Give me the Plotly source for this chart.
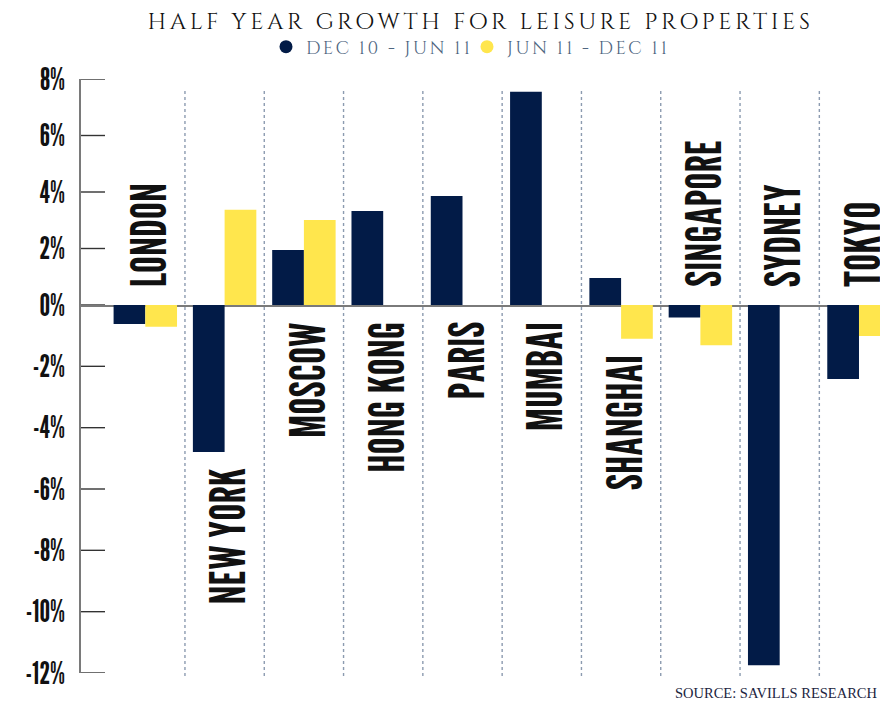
import plotly.graph_objects as go

# Half-year growth in prime leisure property values (%)
cities = ["LONDON", "NEW YORK", "MOSCOW", "HONG KONG", "PARIS",
          "MUMBAI", "SHANGHAI", "SINGAPORE", "SYDNEY", "TOKYO"]
dec10_jun11 = [-0.62, -4.79, 1.95, 3.33, 3.86, 7.55, 0.96, -0.41, -11.75, -2.41]
jun11_dec11 = [-0.71, 3.37, 3.01, None, None, None, -1.10, -1.31, None, -1.01]
# where each city name sits: above the zero line or under its lowest bar
label_side = ["above", "below", "below", "below", "below",
              "below", "below", "above", "above", "above"]

series_names = ["DEC 10 - JUN 11", "JUN 11 - DEC 11"]
series_colors = ["#021b47", "#ffe64d"]

pos_ticks = [0, 2, 4, 6, 8]
neg_ticks = [-2, -4, -6, -8, -10, -12]

NAVY_GREY = "#4e6580"
GOTHIC = "League Gothic, Oswald, Roboto Condensed, Liberation Sans Narrow, sans-serif"
ROMAN = "Cinzel, Liberation Serif, serif"

fig = go.Figure()

# The gain and loss halves of the value axis are drawn on two stacked axes
for vals, name, color, grp in zip([dec10_jun11, jun11_dec11], series_names,
                                  series_colors, ["a", "b"]):
    up = [v if (v is not None and v > 0) else None for v in vals]
    down = [v if (v is not None and v < 0) else None for v in vals]
    fig.add_trace(go.Bar(x=cities, y=up, marker_color=color, marker_line_width=0,
                         offsetgroup=grp, showlegend=False, name=name,
                         xaxis="x", yaxis="y"))
    fig.add_trace(go.Bar(x=cities, y=down, marker_color=color, marker_line_width=0,
                         offsetgroup=grp, showlegend=False, name=name,
                         xaxis="x", yaxis="y2"))
    # round legend swatches
    fig.add_trace(go.Scatter(x=[None], y=[None], mode="markers", name=name,
                             marker=dict(color=color, size=13, symbol="circle"),
                             xaxis="x", yaxis="y"))

# short tick marks running right from the value axis, on a 0-1 helper x axis
tick_len = 24 / 799
for axis_ref, ticks in (("y", pos_ticks), ("y2", neg_ticks)):
    tx, ty = [], []
    for t in ticks:
        tx += [0, tick_len, None]
        ty += [t, t, None]
    fig.add_trace(go.Scatter(x=tx, y=ty, mode="lines", xaxis="x2", yaxis=axis_ref,
                             line=dict(color="#333333", width=1.4),
                             cliponaxis=False, showlegend=False, hoverinfo="skip"))

# City names written vertically beside their bars
label_font = dict(family=GOTHIC, size=48, color="#111111")
for i, city in enumerate(cities):
    if label_side[i] == "above":
        fig.add_annotation(x=city, y=0, xref="x", yref="y", text=city,
                           textangle=-90, showarrow=False, yanchor="bottom",
                           yshift=16, xshift=3, font=label_font)
    else:
        low = min([0] + [v for v in (dec10_jun11[i], jun11_dec11[i])
                         if v is not None])
        fig.add_annotation(x=city, y=low, xref="x", yref="y2", text=city,
                           textangle=-90, showarrow=False, yanchor="top",
                           yshift=-15, xshift=3, font=label_font)

# dotted separators between cities
for i in range(len(cities) - 1):
    fig.add_shape(type="line", xref="x", yref="paper", x0=i + 0.5, x1=i + 0.5,
                  y0=-0.005, y1=0.983, layer="below",
                  line=dict(color="#8c9bb0", width=1.4, dash="dot"))

fig.add_annotation(text="SOURCE: SAVILLS RESEARCH", xref="paper", yref="paper",
                   x=1, y=-0.033, xanchor="right", yanchor="middle", xshift=-1,
                   showarrow=False,
                   font=dict(family="Liberation Serif", size=14.5, color="#1c2440"))

tick_font = dict(family=GOTHIC, size=30, color="#111111")
split = (673 - 305) / 594


def pct_axis(domain, rng, ticks):
    return dict(domain=domain, range=rng, tickmode="array", tickvals=ticks,
                ticktext=[f"{t}%" for t in ticks], ticks="", showline=True,
                linecolor="#7a7a7a", linewidth=1.8, showgrid=False,
                zeroline=False, ticklabelstandoff=8, tickfont=tick_font,
                anchor="x")


fig.update_layout(
    width=880, height=704,
    margin=dict(l=81, r=0, t=79, b=31, autoexpand=False),
    paper_bgcolor="white", plot_bgcolor="white",
    barmode="group", bargap=0.2, bargroupgap=0,
    title=dict(text="HALF YEAR GROWTH FOR LEISURE PROPERTIES",
               x=0.5, xref="paper", xanchor="center",
               y=1 - 21 / 704, yref="container", yanchor="middle",
               font=dict(family=ROMAN, size=23, color="#111111", weight=500)),
    legend=dict(orientation="h", xref="container", yref="container",
                x=266 / 880, y=1 - 47 / 704, xanchor="left", yanchor="middle",
                entrywidth=156, entrywidthmode="pixels",
                font=dict(family=ROMAN, size=18, color=NAVY_GREY),
                bgcolor="rgba(0,0,0,0)", borderwidth=0),
    xaxis=dict(range=[-0.811, 9.265], anchor="y", showticklabels=False,
               ticks="", showgrid=False, zeroline=False,
               showline=True, linecolor="#7a7a7a", linewidth=1.6),
    xaxis2=dict(range=[0, 1], overlaying="x", anchor="y", visible=False),
    yaxis=pct_axis([split, 1], [0, 8], pos_ticks),
    yaxis2=pct_axis([0, split], [-12, 0], neg_ticks),
)

# spaced-out capitals for the heading and legend
spacing_js = """
var gd = document.getElementById('{plot_id}');
function spaceLetters() {
  gd.querySelectorAll('.gtitle').forEach(function (t) { t.style.letterSpacing = '3.6px'; });
  gd.querySelectorAll('.legendtext').forEach(function (t) { t.style.letterSpacing = '2.6px'; });
}
spaceLetters();
gd.on('plotly_afterplot', spaceLetters);
"""

fig.write_html("out.html", post_script=spacing_js)
